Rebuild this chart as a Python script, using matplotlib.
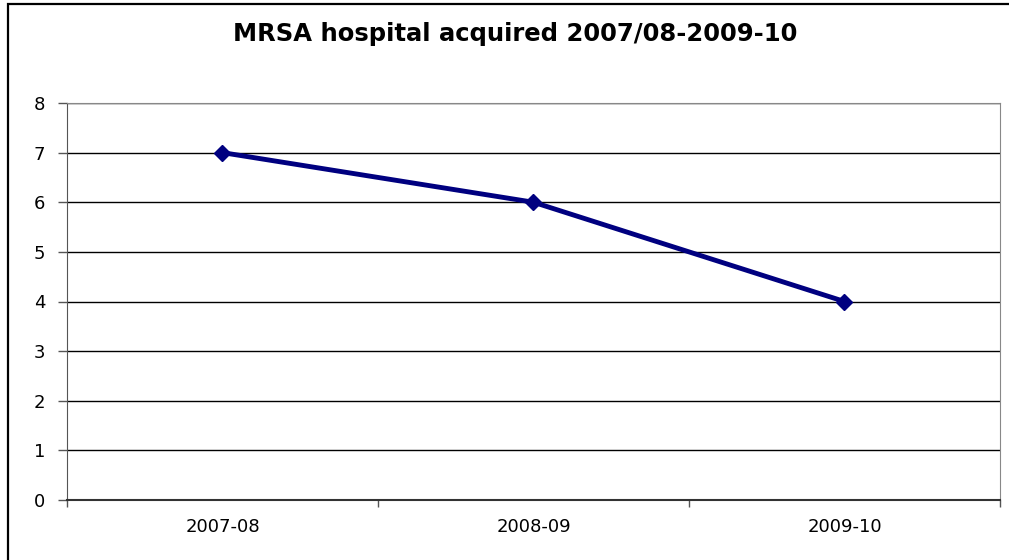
import matplotlib.pyplot as plt
from matplotlib.patches import Rectangle

# --- data ---
years = ["2007-08", "2008-09", "2009-10"]
cases = [7, 6, 4]
y_ticks = [0, 1, 2, 3, 4, 5, 6, 7, 8]

# the original is a stretched Excel chart, DejaVu is wide enough to get close
plt.rcParams['font.family'] = ['DejaVu Sans']

W, H = 1009, 560
fig = plt.figure(figsize=(W / 100, H / 100), dpi=100)
ax = fig.add_axes([67 / W, (H - 500) / H, (1000 - 67) / W, (500 - 103) / H])

x = list(range(len(years)))
ax.plot(x, cases, color="#000080", linewidth=3.5, marker="D", markersize=8, zorder=3)

ax.set_xlim(-0.5, len(years) - 0.5)
ax.set_ylim(0, 8)
ax.set_yticks(y_ticks)
ax.set_xticks(x)
ax.set_xticklabels(years)
ax.set_xticks([i - 0.5 for i in range(len(years) + 1)], minor=True)

ax.yaxis.grid(True, color="black", linewidth=1)
ax.set_axisbelow(True)
ax.tick_params(axis="y", length=6.5, width=1, labelsize=13, pad=9, color="#555555")
ax.tick_params(axis="x", which="major", length=0, labelsize=13, pad=13)
ax.tick_params(axis="x", which="minor", length=5, width=1, color="#555555")

for side in ["top", "right"]:
    ax.spines[side].set_color("#888888")
ax.spines["left"].set_color("#555555")
ax.spines["bottom"].set_color("#333333")
ax.spines["bottom"].set_linewidth(1.5)

fig.text(515 / W, 1 - 34 / H, "MRSA hospital acquired 2007/08-2009-10",
         ha="center", va="center", fontsize=17.5, fontweight="bold")

# outer chart border (right and bottom edges are cut off in the original)
fig.patches.append(Rectangle((8 / W, -0.1), 1.2, 1.1 - 4 / H, transform=fig.transFigure,
                             fill=False, edgecolor="black", linewidth=1.6))

fig.savefig("out.png", dpi=100)
